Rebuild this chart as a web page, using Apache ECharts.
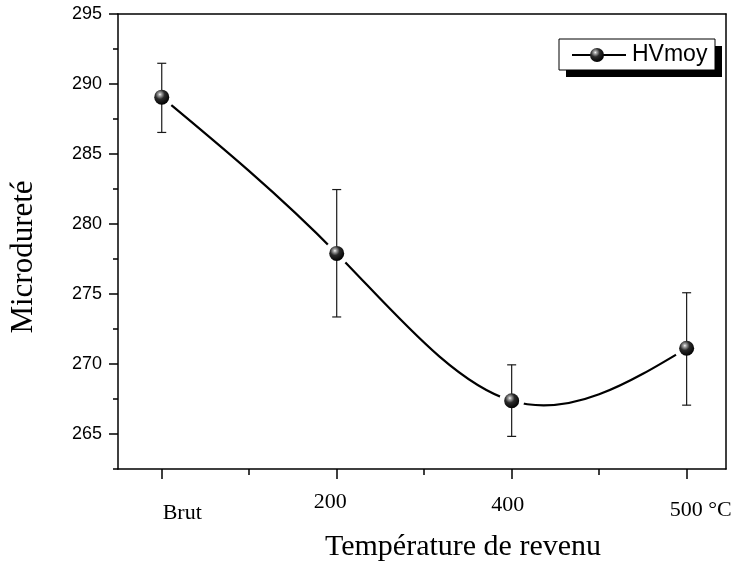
<!DOCTYPE html>
<html>
<head>
<meta charset="utf-8">
<title>Microdureté</title>
<script src="https://cdn.jsdelivr.net/npm/echarts@6/dist/echarts.min.js"></script>
<style>
  html, body { margin: 0; padding: 0; background: #fff; }
  #chart { width: 736px; height: 565px; }
</style>
</head>
<body>
<div id="chart"></div>
<script>
// Tempering stages and Vickers microhardness (mean with error bar limits)
const tickLabels = ['Brut', '200', '400', '500 °C'];
const stagePos = [0, 1, 2, 3];
const hvMean = [289.06, 277.9, 267.37, 271.12];
const hvLow = [286.54, 273.36, 264.83, 267.06];
const hvHigh = [291.48, 282.46, 269.94, 275.09];
const yMajorTicks = [265, 270, 275, 280, 285, 290, 295];
const xMinorTicks = [0.5, 1.5, 2.5];

const serif = '"Liberation Serif", "Times New Roman", serif';
const sans = '"Liberation Sans", Arial, sans-serif';

const sphere = {
  type: 'radial', x: 0.38, y: 0.32, r: 0.7,
  colorStops: [
    { offset: 0, color: '#ffffff' },
    { offset: 0.12, color: '#b0b0b0' },
    { offset: 0.45, color: '#2a2a2a' },
    { offset: 1, color: '#000000' }
  ]
};

const meanPts = stagePos.map((x, i) => [x, hvMean[i]]);
const errPts = stagePos.map((x, i) => [x, hvLow[i], hvHigh[i], hvMean[i]]);

// Slopes of the natural cubic spline through the mean values,
// used as Bezier tangents so the curve passes exactly through every point.
function splineSlopes(xs, ys) {
  const n = xs.length;
  const h = [];
  for (let i = 0; i < n - 1; i++) h.push(xs[i + 1] - xs[i]);
  const M = new Array(n).fill(0);
  if (n > 2) {
    const a = [], b = [], c = [], d = [];
    for (let i = 1; i < n - 1; i++) {
      a.push(h[i - 1]);
      b.push(2 * (h[i - 1] + h[i]));
      c.push(h[i]);
      d.push(6 * ((ys[i + 1] - ys[i]) / h[i] - (ys[i] - ys[i - 1]) / h[i - 1]));
    }
    const m = b.length;
    for (let i = 1; i < m; i++) {
      const w = a[i] / b[i - 1];
      b[i] -= w * c[i - 1];
      d[i] -= w * d[i - 1];
    }
    const sol = new Array(m);
    sol[m - 1] = d[m - 1] / b[m - 1];
    for (let i = m - 2; i >= 0; i--) sol[i] = (d[i] - c[i] * sol[i + 1]) / b[i];
    for (let i = 0; i < m; i++) M[i + 1] = sol[i];
  }
  const s = [];
  for (let i = 0; i < n - 1; i++) {
    s.push((ys[i + 1] - ys[i]) / h[i] - h[i] * (2 * M[i] + M[i + 1]) / 6);
  }
  s.push((ys[n - 1] - ys[n - 2]) / h[n - 2] + h[n - 2] * (M[n - 2] + 2 * M[n - 1]) / 6);
  return s;
}
const hvSlopes = splineSlopes(stagePos, hvMean);

const labelText = { fontFamily: serif, fontSize: 22, color: '#000', lineHeight: 22 };
const frameLine = { color: '#000', width: 1.5 };

const chart = echarts.init(document.getElementById('chart'), null, { renderer: 'canvas' });

chart.setOption({
  animation: false,
  backgroundColor: '#fff',
  grid: { left: 118, top: 14, right: 10, bottom: 96, containLabel: false },
  xAxis: [
    {
      type: 'value', min: -0.25, max: 3.225, position: 'bottom',
      splitLine: { show: false },
      axisLine: { show: true, onZero: false, lineStyle: frameLine },
      axisTick: { show: true, customValues: stagePos, length: 10, lineStyle: frameLine },
      axisLabel: {
        show: true, customValues: stagePos, margin: 22,
        fontFamily: serif, fontSize: 22, color: '#000',
        formatter: (v) => {
          const i = stagePos.indexOf(Math.round(v));
          return i < 0 ? '' : '{t' + i + '|' + tickLabels[i] + '}';
        },
        rich: {
          t0: Object.assign({ padding: [23, 0, 0, 41] }, labelText),
          t1: Object.assign({ padding: [0, 13, 0, 0] }, labelText),
          t2: Object.assign({ padding: [6, 8, 0, 0] }, labelText),
          t3: Object.assign({ padding: [16, 0, 0, 28] }, labelText)
        }
      }
    },
    {
      type: 'value', min: -0.25, max: 3.225, position: 'bottom',
      splitLine: { show: false },
      axisLine: { show: false, onZero: false },
      axisTick: { show: true, customValues: xMinorTicks, length: 6, lineStyle: frameLine },
      axisLabel: { show: false }
    },
    {
      type: 'value', min: -0.25, max: 3.225, position: 'top',
      splitLine: { show: false },
      axisLine: { show: true, onZero: false, lineStyle: frameLine },
      axisTick: { show: false },
      axisLabel: { show: false }
    }
  ],
  yAxis: [
    {
      type: 'value', min: 262.5, max: 295, interval: 2.5, position: 'left',
      splitLine: { show: false },
      axisLine: { show: true, onZero: false, lineStyle: frameLine },
      axisTick: { show: true, length: 5, lineStyle: frameLine },
      axisLabel: {
        show: true, margin: 16, fontFamily: sans, fontSize: 18, color: '#000',
        formatter: (v) => (v % 5 === 0 ? String(v) : '')
      }
    },
    {
      type: 'value', min: 262.5, max: 295, position: 'left',
      splitLine: { show: false },
      axisLine: { show: false, onZero: false },
      axisTick: { show: true, customValues: yMajorTicks, length: 9, lineStyle: frameLine },
      axisLabel: { show: false }
    },
    {
      type: 'value', min: 262.5, max: 295, position: 'right',
      splitLine: { show: false },
      axisLine: { show: true, onZero: false, lineStyle: frameLine },
      axisTick: { show: false },
      axisLabel: { show: false }
    }
  ],
  series: [
    {
      // spline curve through the mean values
      name: 'HVmoy', type: 'custom', data: meanPts, z: 2, silent: true,
      renderItem: (params, api) => {
        if (params.dataIndex !== 0) return null;
        const p = stagePos.map((x, i) => api.coord([x, hvMean[i]]));
        let d = 'M' + p[0][0] + ' ' + p[0][1];
        for (let i = 0; i < stagePos.length - 1; i++) {
          const dx = (stagePos[i + 1] - stagePos[i]) / 3;
          const c1 = api.coord([stagePos[i] + dx, hvMean[i] + hvSlopes[i] * dx]);
          const c2 = api.coord([stagePos[i + 1] - dx, hvMean[i + 1] - hvSlopes[i + 1] * dx]);
          d += ' C' + c1[0] + ' ' + c1[1] + ' ' + c2[0] + ' ' + c2[1] + ' ' + p[i + 1][0] + ' ' + p[i + 1][1];
        }
        return {
          type: 'path',
          shape: { pathData: d },
          style: { fill: null, stroke: '#000', lineWidth: 2.2 }
        };
      }
    },
    {
      // white opening around each marker, then the error bar on top of it
      type: 'custom', data: errPts, z: 5, silent: true,
      renderItem: (params, api) => {
        const x = api.value(0);
        const top = api.coord([x, api.value(2)]);
        const bot = api.coord([x, api.value(1)]);
        const mid = api.coord([x, api.value(3)]);
        const cap = 4.5;
        const style = { stroke: '#1a1a1a', lineWidth: 1.2 };
        return {
          type: 'group',
          children: [
            { type: 'circle', shape: { cx: mid[0], cy: mid[1], r: 12.5 }, style: { fill: '#fff' } },
            { type: 'line', shape: { x1: top[0], y1: top[1], x2: bot[0], y2: bot[1] }, style },
            { type: 'line', shape: { x1: top[0] - cap, y1: top[1], x2: top[0] + cap, y2: top[1] }, style },
            { type: 'line', shape: { x1: bot[0] - cap, y1: bot[1], x2: bot[0] + cap, y2: bot[1] }, style }
          ]
        };
      }
    },
    {
      type: 'scatter', data: meanPts, symbol: 'circle', symbolSize: 15,
      itemStyle: { color: sphere, opacity: 1 }, z: 8, silent: true
    }
  ],
  graphic: [
    // legend box with its drop shadow
    { type: 'rect', shape: { x: 566, y: 46, width: 156, height: 31 }, style: { fill: '#000' }, z: 10 },
    { type: 'rect', shape: { x: 559, y: 39, width: 156, height: 31 }, style: { fill: '#fff', stroke: '#000', lineWidth: 1 }, z: 11 },
    { type: 'line', shape: { x1: 572, y1: 55, x2: 626, y2: 55 }, style: { stroke: '#000', lineWidth: 2 }, z: 12 },
    { type: 'circle', shape: { cx: 597, cy: 55, r: 7 }, style: { fill: sphere }, z: 13 },
    { type: 'text', x: 632, y: 55, z: 13, style: { text: 'HVmoy', font: '23px ' + sans, fill: '#000', verticalAlign: 'middle', align: 'left' } },
    // axis titles
    { type: 'text', x: 463, y: 547, z: 10, style: { text: 'Température de revenu', font: '30px ' + serif, fill: '#000', align: 'center', verticalAlign: 'middle' } },
    { type: 'text', x: 24, y: 257, rotation: Math.PI / 2, z: 10, style: { text: 'Microdureté', font: '31px ' + serif, fill: '#000', align: 'center', verticalAlign: 'middle' } }
  ]
});
</script>
</body>
</html>
